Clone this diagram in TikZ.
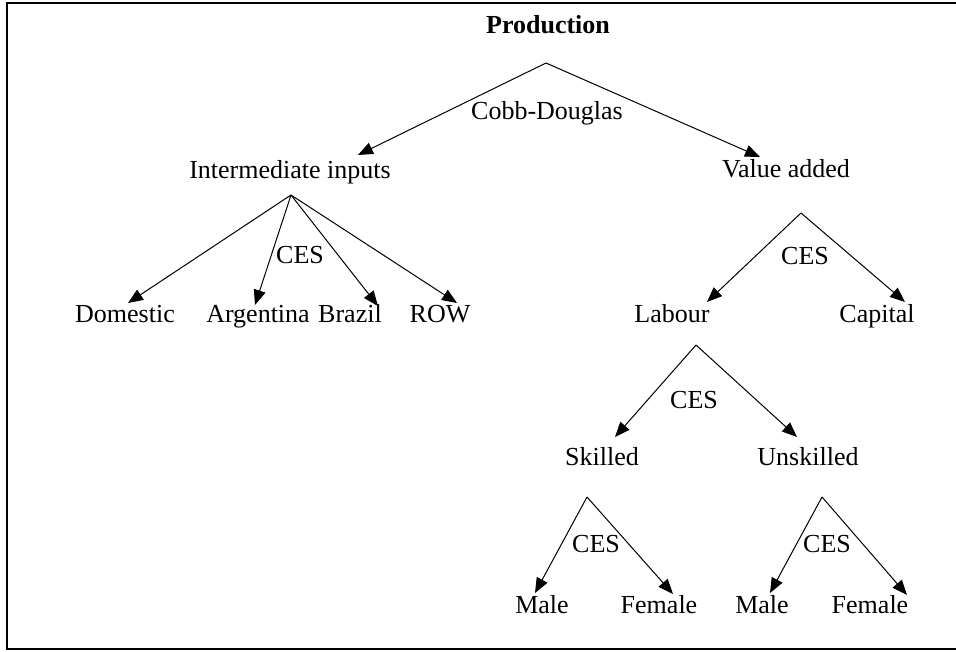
\documentclass[tikz,border=0pt]{standalone}
\usepackage{fontspec}
\setmainfont{Liberation Serif}
\usetikzlibrary{arrows.meta}
\begin{document}
\begin{tikzpicture}[x=1pt,y=-1pt,
  lbl/.style={inner sep=0pt,anchor=base,font=\fontsize{26}{30}\selectfont},
  conn/.style={line width=1pt,-{Triangle[length=15pt,width=12pt]}},
  frame/.style={line width=2pt,line cap=rect}]
\useasboundingbox (0,0) rectangle (956,651);
\draw[frame] (956,3) -- (7,3) -- (7,649) -- (956,649);
% texts
\node[lbl,font=\fontsize{26}{30}\selectfont\bfseries] (prod) at (548,33) {Production};
\node[lbl] (cd) at (547,119) {Cobb-Douglas};
\node[lbl] (inter) at (290,178) {Intermediate inputs};
\node[lbl] (va) at (786,177) {Value added};
\node[lbl] (dom) at (125,322) {Domestic};
\node[lbl] (arg) at (258,322) {Argentina};
\node[lbl] (bra) at (350,322) {Brazil};
\node[lbl] (row) at (440,322) {ROW};
\node[lbl] (ces1) at (300,263) {CES};
\node[lbl] (lab) at (672,322) {Labour};
\node[lbl] (cap) at (877,322) {Capital};
\node[lbl] (ces2) at (805,264) {CES};
\node[lbl] (sk) at (602,465) {Skilled};
\node[lbl] (unsk) at (808,465) {Unskilled};
\node[lbl] (ces3) at (694,408) {CES};
\node[lbl] (m1) at (542,613) {Male};
\node[lbl] (f1) at (659,613) {Female};
\node[lbl] (ces4) at (596,552) {CES};
\node[lbl] (m2) at (762,613) {Male};
\node[lbl] (f2) at (870,613) {Female};
\node[lbl] (ces5) at (827,552) {CES};
% apexes and tips
\coordinate (aP) at (546,63);
\coordinate (tI) at (358,155);
\coordinate (tV) at (760,157);
\coordinate (aI) at (291,195);
\coordinate (tDom) at (128,303);
\coordinate (tArg) at (255,305);
\coordinate (tBra) at (378,306);
\coordinate (tRow) at (457,303);
\coordinate (aV) at (801,213);
\coordinate (tLab) at (707,302);
\coordinate (tCap) at (905,302);
\coordinate (aL) at (696,345);
\coordinate (tSk) at (615,437);
\coordinate (tUn) at (797,437);
\coordinate (aS) at (587,497);
\coordinate (tM1) at (535,593);
\coordinate (tF1) at (673,594);
\coordinate (aU) at (822,497);
\coordinate (tM2) at (770,593);
\coordinate (tF2) at (907,595);
% connectors
\draw[conn] (aP) -- (tI);
\draw[conn] (aP) -- (tV);
\draw[conn] (aI) -- (tDom);
\draw[conn] (aI) -- (tArg);
\draw[conn] (aI) -- (tBra);
\draw[conn] (aI) -- (tRow);
\draw[conn] (aV) -- (tLab);
\draw[conn] (aV) -- (tCap);
\draw[conn] (aL) -- (tSk);
\draw[conn] (aL) -- (tUn);
\draw[conn] (aS) -- (tM1);
\draw[conn] (aS) -- (tF1);
\draw[conn] (aU) -- (tM2);
\draw[conn] (aU) -- (tF2);
\end{tikzpicture}
\end{document}
